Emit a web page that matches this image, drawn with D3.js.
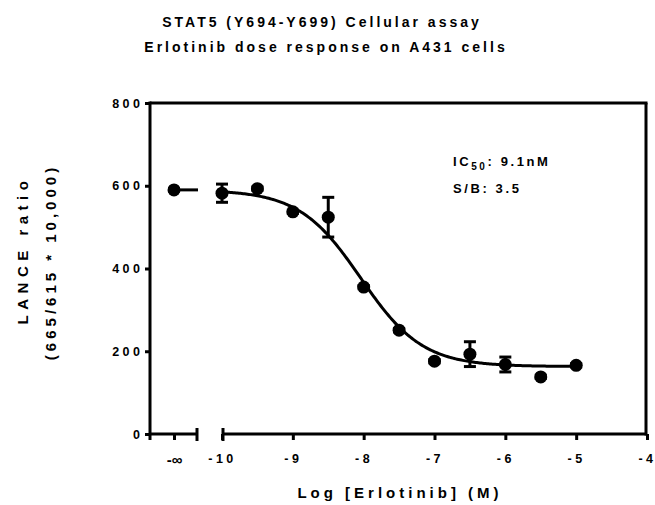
<!DOCTYPE html>
<html>
<head>
<meta charset="utf-8">
<script src="https://cdn.jsdelivr.net/npm/d3@7"></script>
<style>
  body { margin: 0; background: #fff; }
  text { font-family: "Liberation Sans", Arial, sans-serif; font-weight: bold; fill: #000; }
</style>
</head>
<body>
<div id="chart"></div>
<script>
// data
var logConc = [-10, -9.5, -9, -8.5, -8, -7.5, -7, -6.5, -6, -5.5, -5];
var ratio   = [582, 593, 537, 524, 355, 251, 176, 193, 168, 138, 166];
var sem     = [22, 4, 4, 48, 4, 4, 4, 30, 18, 4, 4];
var zeroConc = [{ value: 590, sem: 3 }];   // the "-∞" (no drug) point
var xTicks = [-10, -9, -8, -7, -6, -5, -4];
var yTicks = [0, 200, 400, 600, 800];
var titleLines = ["STAT5 (Y694-Y699) Cellular assay", "Erlotinib dose response on A431 cells"];
// fit: top, bottom, logIC50, hill
var fitTop = 590, fitBottom = 163, logIC50 = -8.04, hill = 1.0;

var W = 655, H = 505;
var svg = d3.select("#chart").append("svg").attr("width", W).attr("height", H);

var plotL = 150, plotR = 646, plotT = 103, plotB = 434;
var seg1 = [plotL, 198], seg2 = [222, plotR];

var y = d3.scaleLinear().domain([0, 800]).range([plotB, plotT]);
var x = d3.scaleLinear().domain([-10, -4]).range([seg2[0], 647]);
var xZero = d3.scalePoint().domain(["-∞"]).range(seg1).padding(0.5);

// titles
svg.selectAll(".title").data(titleLines).enter().append("text")
  .attr("class", "title")
  .attr("x", function(d, i) { return i ? 326 : 322; }).attr("y", function(d, i) { return 27 + i * 25; })
  .attr("text-anchor", "middle")
  .style("font-size", "14px").style("letter-spacing", "3px")
  .text(function(d) { return d; });

var axisStyle = function(g) {
  g.selectAll(".domain").remove();
  g.selectAll(".tick line").attr("stroke", "#000").attr("stroke-width", 3);
  g.selectAll(".tick text").style("font-size", "12.5px").style("letter-spacing", "3.5px");
};

// y axis
var yAxis = svg.append("g").attr("transform", "translate(" + plotL + ",0)")
  .call(d3.axisLeft(y).tickValues(yTicks).tickSize(5).tickPadding(5))
  .call(axisStyle);
yAxis.selectAll(".tick text").attr("dx", "3.5px");

// x axis, main segment
var xAxis = svg.append("g").attr("transform", "translate(0," + plotB + ")")
  .call(d3.axisBottom(x).tickValues(xTicks).tickSize(6).tickPadding(14))
  .call(axisStyle);
xAxis.selectAll(".tick text").text(function(d) { return String(d); });

// x axis, zero segment
var xAxis0 = svg.append("g").attr("transform", "translate(0," + plotB + ")")
  .call(d3.axisBottom(xZero).tickSize(6).tickPadding(14))
  .call(axisStyle);
xAxis0.selectAll(".tick text").style("letter-spacing", "0px").style("font-size", "15px");

// frame and axis lines
var frame = svg.append("g").attr("stroke", "#000").attr("stroke-width", 3).attr("fill", "none");
frame.append("line").attr("x1", plotL).attr("x2", plotL).attr("y1", plotT - 1.5).attr("y2", plotB + 6);
frame.append("line").attr("x1", plotL).attr("x2", plotR + 1.5).attr("y1", plotT).attr("y2", plotT);
frame.append("line").attr("x1", plotR).attr("x2", plotR).attr("y1", plotT).attr("y2", plotB + 1.5);
frame.append("line").attr("x1", seg1[0]).attr("x2", seg1[1]).attr("y1", plotB).attr("y2", plotB);
frame.append("line").attr("x1", seg2[0]).attr("x2", seg2[1]).attr("y1", plotB).attr("y2", plotB);
// break caps
[seg1[1] - 1, seg2[0] + 1].forEach(function(cx) {
  frame.append("line").attr("x1", cx).attr("x2", cx).attr("y1", plotB - 6).attr("y2", plotB + 7);
});

// fitted curve
var curveX = d3.range(-10, -4.999, 0.02);
var fit = function(lx) { return fitBottom + (fitTop - fitBottom) / (1 + Math.pow(10, (lx - logIC50) * hill)); };
svg.append("path")
  .datum(curveX)
  .attr("fill", "none").attr("stroke", "#000").attr("stroke-width", 3)
  .attr("d", d3.line().x(function(d) { return x(d); }).y(function(d) { return y(fit(d)); }));
svg.append("line")
  .attr("x1", xZero("-∞")).attr("x2", seg1[1]).attr("y1", y(fitTop)).attr("y2", y(fitTop))
  .attr("stroke", "#000").attr("stroke-width", 3);

// points and error bars
var pts = logConc.map(function(d, i) { return { px: x(d), v: ratio[i], e: sem[i] }; });
zeroConc.forEach(function(d) { pts.push({ px: xZero("-∞"), v: d.value, e: d.sem }); });

var eb = svg.append("g").selectAll("g").data(pts).enter().append("g")
  .attr("stroke", "#000").attr("stroke-width", 3);
eb.append("line").attr("x1", function(d) { return d.px; }).attr("x2", function(d) { return d.px; })
  .attr("y1", function(d) { return y(d.v + d.e); }).attr("y2", function(d) { return y(d.v - d.e); });
eb.append("line").attr("x1", function(d) { return d.px - 6; }).attr("x2", function(d) { return d.px + 6; })
  .attr("y1", function(d) { return y(d.v + d.e); }).attr("y2", function(d) { return y(d.v + d.e); });
eb.append("line").attr("x1", function(d) { return d.px - 6; }).attr("x2", function(d) { return d.px + 6; })
  .attr("y1", function(d) { return y(d.v - d.e); }).attr("y2", function(d) { return y(d.v - d.e); });

svg.append("g").selectAll("circle").data(pts).enter().append("circle")
  .attr("cx", function(d) { return d.px; }).attr("cy", function(d) { return y(d.v); })
  .attr("r", 6.5).attr("fill", "#000");

// annotation
var ann = svg.append("text").attr("x", 453).attr("y", 166).style("font-size", "13px").style("letter-spacing", "2.6px");
ann.append("tspan").text("IC");
ann.append("tspan").attr("dy", 4).style("font-size", "10px").text("50");
ann.append("tspan").attr("dy", -4).text(": 9.1nM");
svg.append("text").attr("x", 453).attr("y", 193).style("font-size", "13px").style("letter-spacing", "2.6px")
  .text("S/B: 3.5");

// axis titles
svg.append("text").attr("x", 400).attr("y", 498).attr("text-anchor", "middle")
  .style("font-size", "15px").style("letter-spacing", "4px").text("Log [Erlotinib] (M)");
svg.append("text").attr("transform", "translate(28,250) rotate(-90)").attr("text-anchor", "middle")
  .style("font-size", "15px").style("letter-spacing", "5.5px").text("LANCE ratio");
svg.append("text").attr("transform", "translate(56,262) rotate(-90)").attr("text-anchor", "middle")
  .style("font-size", "15px").style("letter-spacing", "4px").text("(665/615 * 10,000)");
</script>
</body>
</html>
